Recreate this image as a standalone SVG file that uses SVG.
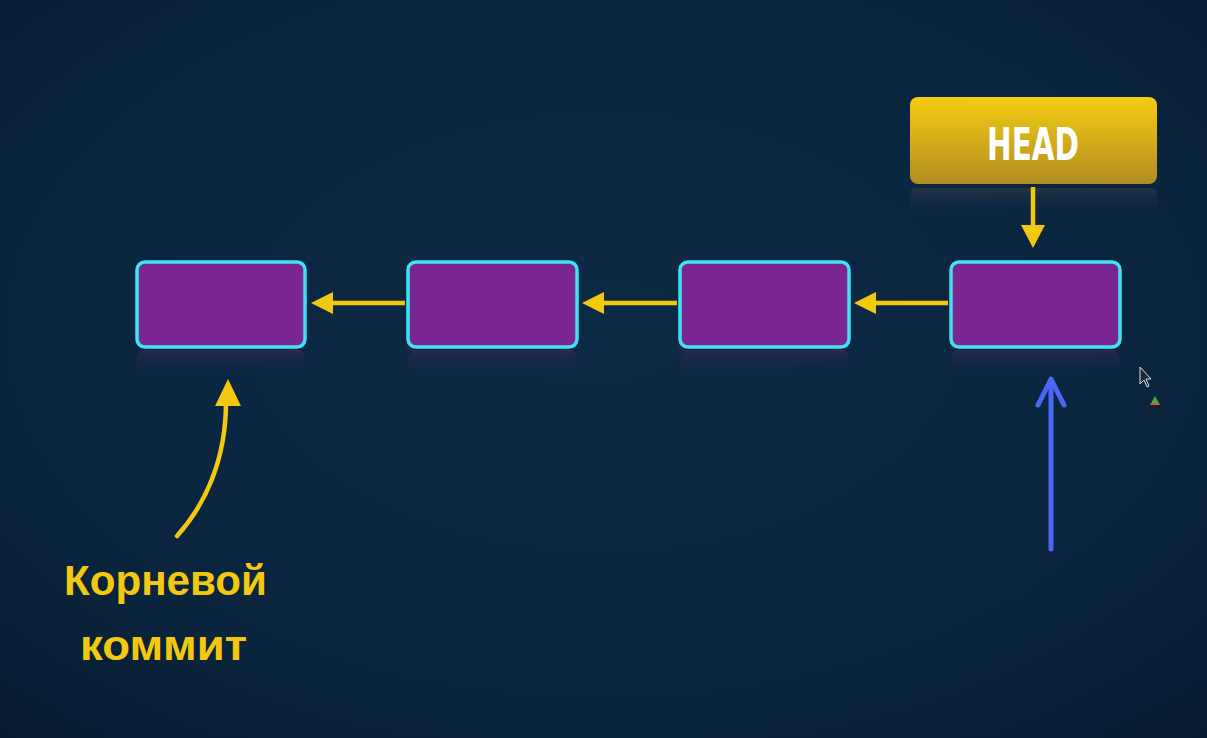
<svg xmlns="http://www.w3.org/2000/svg" width="1207" height="738" viewBox="0 0 1207 738">
<defs>
<radialGradient id="bg" cx="0.5" cy="0.45" r="0.75">
<stop offset="0" stop-color="#0d2a45"/>
<stop offset="0.7" stop-color="#0a243d"/>
<stop offset="1" stop-color="#061a2e"/>
</radialGradient>
<linearGradient id="gold" x1="0" y1="0" x2="0" y2="1">
<stop offset="0" stop-color="#f5cd12"/>
<stop offset="1" stop-color="#b28c22"/>
</linearGradient>
<linearGradient id="refl" x1="0" y1="0" x2="0" y2="1">
<stop offset="0" stop-color="#3a2a63" stop-opacity="0.55"/>
<stop offset="1" stop-color="#0b2640" stop-opacity="0"/>
</linearGradient>
<linearGradient id="reflg" x1="0" y1="0" x2="0" y2="1">
<stop offset="0" stop-color="#2c3846" stop-opacity="0.8"/>
<stop offset="1" stop-color="#0b2640" stop-opacity="0"/>
</linearGradient>
<marker id="ah" markerWidth="6" markerHeight="6" refX="5" refY="3" orient="auto" markerUnits="strokeWidth">
<path d="M0,0 L6,3 L0,6 Z" fill="#f2c811"/>
</marker>
<style>
.commit rect.b{fill:#7a2591;stroke:#3fe4f2;stroke-width:3.5}
.commit rect.r{fill:url(#refl)}
.ya{stroke:#f2c811;stroke-width:4.5;fill:none}
.yh{fill:#f2c811}
.lbl{font-family:"Liberation Sans","DejaVu Sans",sans-serif;font-weight:bold;fill:#f2c811;font-size:42px}
</style>
</defs>
<rect width="1207" height="738" fill="url(#bg)"/>

<g id="commit1" class="commit">
<rect class="r" x="137" y="350" width="168" height="32" rx="8"/>
<rect class="b" x="137" y="262" width="168" height="85" rx="8"/>
</g>
<g id="commit2" class="commit">
<rect class="r" x="408" y="350" width="169" height="32" rx="8"/>
<rect class="b" x="408" y="262" width="169" height="85" rx="8"/>
</g>
<g id="commit3" class="commit">
<rect class="r" x="680" y="350" width="169" height="32" rx="8"/>
<rect class="b" x="680" y="262" width="169" height="85" rx="8"/>
</g>
<g id="commit4" class="commit">
<rect class="r" x="951" y="350" width="169" height="32" rx="8"/>
<rect class="b" x="951" y="262" width="169" height="85" rx="8"/>
</g>

<g id="head">
<rect x="910" y="188" width="247" height="30" rx="6" fill="url(#reflg)"/>
<rect x="910" y="97" width="247" height="87" rx="8" fill="url(#gold)"/>
<text x="1033" y="160" text-anchor="middle" font-family="'DejaVu Sans','Liberation Sans',sans-serif" font-weight="bold" font-size="44" fill="#ffffff" textLength="92" lengthAdjust="spacingAndGlyphs">HEAD</text>
</g>

<g id="connectors">
<line class="ya" x1="405" y1="303" x2="330" y2="303"/>
<polygon class="yh" points="311,303 333,292 333,314"/>
<line class="ya" x1="677" y1="303" x2="601" y2="303"/>
<polygon class="yh" points="582,303 604,292 604,314"/>
<line class="ya" x1="948" y1="303" x2="873" y2="303"/>
<polygon class="yh" points="854,303 876,292 876,314"/>
<line class="ya" x1="1033" y1="187" x2="1033" y2="228"/>
<polygon class="yh" points="1033,248 1021,225 1045,225"/>
<path class="ya" d="M177,536 C205,505 226,460 226,402" stroke-linecap="round"/>
<polygon class="yh" points="228,379 215,406 241,406"/>
<g stroke="#4a68f5" stroke-width="5" stroke-linecap="round" fill="none">
<line x1="1051" y1="549" x2="1051" y2="380"/>
<polyline points="1038,405 1051,379 1064,405" stroke-linejoin="round"/>
</g>
</g>

<g id="root-label">
<text class="lbl" x="64" y="595" textLength="203" lengthAdjust="spacingAndGlyphs">Корневой</text>
<text class="lbl" x="80" y="660" textLength="167" lengthAdjust="spacingAndGlyphs">коммит</text>
</g>

<g id="cursor">
<path d="M1140,367 L1140,384 L1144,380 L1147,387 L1149,386 L1146,379 L1151,379 Z" fill="#1a2a3a" stroke="#d8dde2" stroke-width="1"/>
<polygon points="1155,396 1150,405 1160,405" fill="#3cb043"/>
<polygon points="1151,403 1159,403 1160,405 1150,405" fill="#e0502a"/>
</g>
</svg>
